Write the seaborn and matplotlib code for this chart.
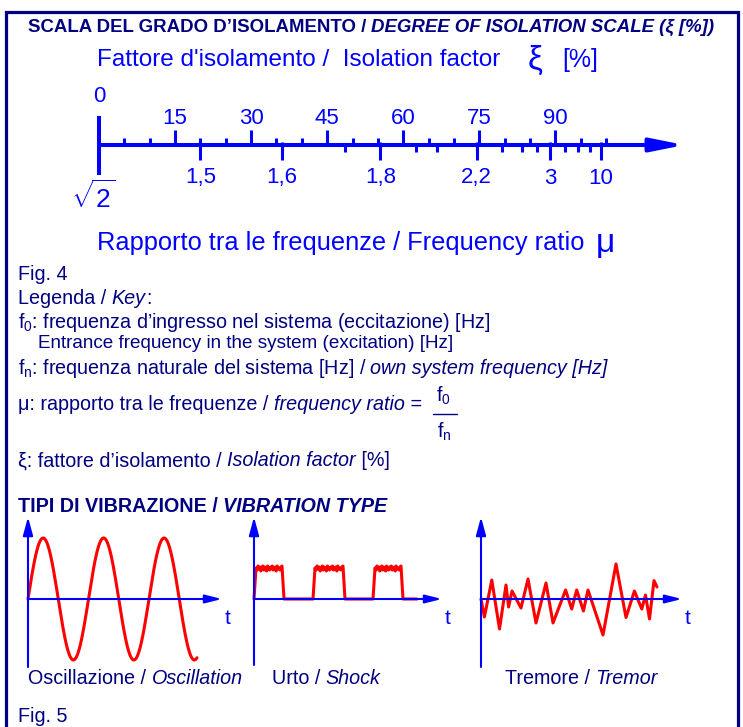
# isolation_scale.py

# ====== IMPORTS ======
import numpy as np
import matplotlib
matplotlib.use("Agg")
import matplotlib.pyplot as plt
import seaborn as sns

# ====== DATA ======
# upper scale: isolation factor xi [%]
xi_major = [15, 30, 45, 60, 75, 90]
xi_minor = [5, 10, 20, 25, 35, 40, 50, 55, 65, 70, 80, 85, 95, 100]

# lower scale: frequency ratio mu, with the xi value where each tick sits
mu_labels = ["1,5", "1,6", "1,8", "2,2", "3", "10"]
mu_pos = [20, 36, 55.5, 74.5, 89, 99]
mu_minor_pos = [48.5, 62.5, 66.7, 79.5, 83.5, 86.3, 92, 94.5, 96.9]

# vibration sketches (units read as pixels from the picture)
osc_amp = 61
osc_period = 60.5
osc_len = 169

shock_starts = [0, 59, 119]
shock_ends = [29, 90, 148]
shock_height = 30
shock_ripple = [1, -1, 3, 0, 2, -2, 1, 3, -1, 2, 0, -2, 3, 1, -1, 2, 0, 3,
                -1, 1, 2, -2, 3, 0, 1, -1, 2, 3]
shock_len = 163

tremor_t = [0, 3.4, 10.8, 18.5, 25, 27.6, 31, 40, 47, 55, 65, 72, 84.6, 90.7,
            95.7, 102.4, 107, 122, 135, 145, 153.4, 160.8, 164.5, 168.5, 173, 176]
tremor_y = [0, -18, 19, -30, 14, -8, 8, -9, 20, -24, 16, -24, 9, -10,
            9, -12, 9, -36, 35, -18.5, 8, -10, 4, -20, 18.4, 12]

# ====== STYLE ======
sns.set_style("white")
plt.rcParams["font.family"] = ["Liberation Sans", "DejaVu Sans"]
plt.rcParams["mathtext.fontset"] = "custom"
plt.rcParams["mathtext.rm"] = "Liberation Sans"
plt.rcParams["mathtext.it"] = "Liberation Sans:italic"
plt.rcParams["mathtext.bf"] = "Liberation Sans:bold"
plt.rcParams["mathtext.default"] = "regular"

NAVY = "#000080"
BLUE = "#0000FF"
RED = "#FF0000"
W, H = 743, 727

fig = plt.figure(figsize=(W / 100, H / 100), dpi=100)
fig.patch.set_facecolor("white")

# overlay in pixel units for the frame and the text block
ov = fig.add_axes([0, 0, 1, 1])
ov.set_xlim(0, W)
ov.set_ylim(H, 0)
ov.axis("off")
renderer = fig.canvas.get_renderer()

# frame
ov.plot([6, 6, 738, 738], [H, 12, 12, H], color=NAVY, lw=2.3, solid_joinstyle="miter")


def seg_width(s, **kw):
    t1 = ov.text(0, 0, s + "|", **kw)
    t2 = ov.text(0, 0, "|", **kw)
    w = t1.get_window_extent(renderer).width - t2.get_window_extent(renderer).width
    t1.remove()
    t2.remove()
    return w


def rich(x, y, parts, size, color=NAVY, weight="normal"):
    for s, style in parts:
        kw = dict(fontsize=size, color=color, fontweight=weight, fontstyle=style, va="center")
        ov.text(x, y, s, **kw)
        x += seg_width(s, **kw)
    return x


# ====== HEADINGS ======
rich(28, 27, [("SCALA DEL GRADO D\u2019ISOLAMENTO / ", "normal"),
              ("DEGREE OF ISOLATION SCALE (\u03be [%])", "italic")], 13.4, NAVY, "bold")

x = rich(97, 60, [("Fattore d'isolamento /  Isolation factor", "normal")], 17.5, BLUE)
x = rich(x + 27, 60, [("\u03be", "normal")], 24, BLUE)
rich(x + 20, 60, [("[%]", "normal")], 18, BLUE)

x = rich(97, 243, [("Rapporto tra le frequenze / Frequency ratio", "normal")], 18.3, BLUE)
rich(x + 11, 243, [("\u03bc", "normal")], 24, BLUE)

# ====== KEY ======
ks = 14.2
rich(18, 275, [("Fig. 4", "normal")], ks)
rich(18, 298, [("Legenda / ", "normal"), ("Key", "italic"), (":", "normal")], ks)
rich(18, 322, [("f$_0$: frequenza d\u2019ingresso nel sistema (eccitazione) [Hz]", "normal")], ks)
rich(38, 344, [("Entrance frequency in the system (excitation) [Hz]", "normal")], 13.6)
rich(18, 369, [("f$_n$: frequenza naturale del sistema [Hz] / ", "normal"),
               ("own system frequency [Hz]", "italic")], ks)
x = rich(18, 405, [("\u03bc: rapporto tra le frequenze / ", "normal"),
                   ("frequency ratio", "italic"), (" =  ", "normal")], ks)
ov.text(x + 11, 396, "f$_0$", fontsize=ks, color=NAVY, ha="center", va="center")
ov.plot([x, x + 24], [414, 414], color=NAVY, lw=1)
ov.text(x + 11, 432, "f$_n$", fontsize=ks, color=NAVY, ha="center", va="center")
rich(18, 461, [("\u03be: fattore d\u2019isolamento / ", "normal"),
               ("Isolation factor", "italic"), (" [%]", "normal")], ks)

rich(18, 506, [("TIPI DI VIBRAZIONE / ", "normal"), ("VIBRATION TYPE", "italic")], 14.2, NAVY, "bold")

rich(28, 679, [("Oscillazione / ", "normal"), ("Oscillation", "italic")], ks)
rich(272, 679, [("Urto / ", "normal"), ("Shock", "italic")], ks)
rich(505, 679, [("Tremore / ", "normal"), ("Tremor", "italic")], ks)
rich(18, 717, [("Fig. 5", "normal")], ks)

# ====== SCALE ======
PX = 5.07  # pixels per percent
sc = fig.add_axes([30 / W, 1 - 225 / H, 670 / W, 145 / H])
sc.set_xlim((30 - 99) / PX, (700 - 99) / PX)
sc.set_ylim(-80, 65)
sc.axis("off")

sc.annotate("", xy=(115.5, 0), xytext=(0, 0),
            arrowprops=dict(arrowstyle="-|>,head_length=1.0,head_width=0.2", mutation_scale=20,
                            lw=2.9, color=BLUE, shrinkA=0, shrinkB=0))
sc.vlines([0], -30, 29, color=BLUE, lw=2.9)
sc.vlines(xi_minor, 0, 7, color=BLUE, lw=2.2)
sc.vlines(xi_major, 0, 15, color=BLUE, lw=2.2)
sc.vlines(mu_minor_pos, -7, 0, color=BLUE, lw=2.2)
sc.vlines(mu_pos, -15, 3, color=BLUE, lw=2.2)

sc.text(0, 49, "0", fontsize=16, color=BLUE, ha="center", va="center")
for v in xi_major:
    sc.text(v, 27, str(v), fontsize=16, color=BLUE, ha="center", va="center")
for lab, v in zip(mu_labels, mu_pos):
    sc.text(v, -33, lab, fontsize=16, color=BLUE, ha="center", va="center")
sc.text(-1.2, -52, r"$\sqrt{2}$", fontsize=19, color=BLUE, ha="center", va="center")


# ====== VIBRATION TYPES ======
def small_axes(ox, oy, tip, bottom):
    x0, x1, y0, y1 = -12, 215, -75, 90
    a = fig.add_axes([(ox + x0) / W, 1 - (oy - y0) / H, (x1 - x0) / W, (y1 - y0) / H])
    a.set_xlim(x0, x1)
    a.set_ylim(y0, y1)
    a.axis("off")
    a.annotate("", xy=(0, 82), xytext=(0, bottom),
               arrowprops=dict(arrowstyle="-|>,head_length=1.1,head_width=0.3", mutation_scale=10,
                               lw=1.5, color=BLUE, shrinkA=0, shrinkB=0))
    a.annotate("", xy=(tip, 0), xytext=(0, 0),
               arrowprops=dict(arrowstyle="-|>,head_length=1.0,head_width=0.25", mutation_scale=10,
                               lw=1.5, color=BLUE, shrinkA=0, shrinkB=0))
    a.text(tip + 6, -19, "t", fontsize=15, color=BLUE, ha="center", va="center")
    return a


a1 = small_axes(28, 599, 194, -68)
t = np.linspace(0, osc_len, 400)
sns.lineplot(x=t, y=osc_amp * np.sin(2 * np.pi * t / osc_period), ax=a1,
             color=RED, linewidth=2.2, sort=False, estimator=None)

a2 = small_axes(254, 599, 188, -66)
sx, sy = [], []
for s, e in zip(shock_starts, shock_ends):
    top_x = np.linspace(s + 2, e - 1, len(shock_ripple))
    sx += [s] + list(top_x) + [e + 1]
    sy += [0] + [shock_height + r for r in shock_ripple] + [0]
sx.append(shock_len)
sy.append(0)
sns.lineplot(x=sx, y=sy, ax=a2, color=RED, linewidth=2.2, sort=False, estimator=None)

a3 = small_axes(481, 599, 201, -68)
sns.lineplot(x=tremor_t, y=tremor_y, ax=a3, color=RED, linewidth=2.2, sort=False, estimator=None)

fig.savefig("out.png", dpi=100, facecolor="white")
